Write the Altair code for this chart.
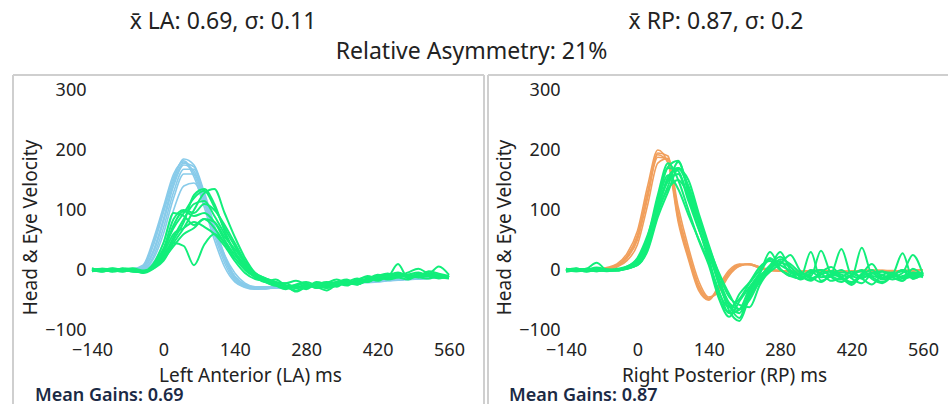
import altair as alt
import pandas as pd

# Sample times (ms) shared by every velocity trace
TIME_MS = [-140, -120, -100, -80, -60, -40, -20, 0, 20, 40, 60, 80,
           100, 120, 140, 160, 180, 200, 220, 240, 260, 280, 300, 320,
           340, 360, 380, 400, 420, 440, 460, 480, 500, 520, 540, 560]

# Left anterior canal impulses: head velocity traces (deg/s)
LA_HEAD = [
    [0, 0, 1, 0, 1, 5, 40, 95, 150, 185, 175, 130, 75, 25, -12, -25, -30, -31, -30, -30, -29, -28, -27, -26, -25, -24, -22, -21, -20, -18, -17, -16, -15, -14, -13, -12],
    [1, 0, 0, -1, 0, 3, 28, 80, 140, 175, 165, 120, 65, 18, -15, -27, -31, -30, -30, -29, -28, -28, -27, -25, -24, -23, -21, -20, -19, -18, -16, -15, -15, -14, -13, -12],
    [0, -1, 0, 0, 1, 2, 18, 60, 120, 160, 160, 115, 65, 20, -10, -24, -29, -30, -29, -29, -28, -27, -26, -25, -23, -22, -21, -19, -18, -17, -16, -15, -14, -13, -13, -12],
    [0, 0, 0, 1, 2, 8, 50, 105, 160, 180, 155, 105, 50, 5, -20, -29, -32, -31, -30, -29, -28, -27, -25, -24, -23, -22, -20, -19, -18, -17, -16, -15, -14, -13, -12, -11],
    [0, 1, 0, 0, -1, 1, 12, 45, 100, 140, 145, 115, 70, 25, -5, -22, -28, -28, -28, -27, -26, -25, -24, -23, -22, -21, -20, -18, -17, -16, -15, -14, -13, -12, -11, -11],
    [0, 0, 1, 0, 0, 4, 32, 85, 145, 178, 172, 125, 70, 20, -14, -26, -30, -31, -30, -29, -28, -27, -25, -24, -23, -21, -20, -19, -18, -17, -16, -15, -14, -13, -12, -12],
    [0, 0, 0, 1, 0, 2, 22, 70, 130, 168, 168, 122, 68, 22, -12, -26, -30, -30, -29, -29, -28, -27, -26, -25, -24, -22, -21, -20, -19, -17, -16, -15, -14, -13, -13, -12],
    [0, 1, 0, 0, 1, 6, 45, 100, 155, 182, 160, 112, 58, 12, -18, -28, -31, -31, -30, -30, -29, -27, -26, -25, -24, -22, -21, -20, -18, -17, -16, -15, -14, -13, -12, -12],
]

# Left anterior canal impulses: eye velocity traces (deg/s)
LA_EYE = [
    [0, -3, 2, 0, -2, -4, 8, 35, 70, 95, 120, 132, 105, 70, 40, 12, -8, -18, -25, -30, -26, -32, -24, -28, -20, -24, -16, -20, -12, -14, -10, -12, -6, -10, -12, -14],
    [2, 0, -2, 3, 0, -3, 5, 30, 75, 98, 90, 95, 80, 50, 25, 5, -10, -16, -22, -26, -30, -24, -30, -26, -22, -18, -20, -14, -16, -12, 10, -14, -10, -5, -12, -10],
    [-2, 2, 0, -3, 1, -2, 3, 25, 45, 40, 8, 42, 60, 45, 20, 0, -12, -20, -16, -26, -30, -26, -28, -22, -16, -22, -18, -10, -14, -12, -8, -10, -12, -6, -8, -12],
    [0, 1, -3, 0, 2, -5, 2, 15, 45, 70, 100, 128, 135, 95, 55, 20, -5, -15, -22, -28, -34, -28, -24, -30, -26, -20, -24, -16, -12, -16, -12, -8, -12, -14, -10, -12],
    [3, -2, 0, 2, -3, -2, 10, 45, 95, 90, 75, 85, 70, 45, 20, 2, -12, -20, -26, -32, -26, -22, -30, -26, -20, -22, -24, -16, -10, -14, -12, -8, -4, -10, -12, -10],
    [0, 2, 1, -2, 0, -3, 4, 22, 55, 85, 110, 115, 90, 60, 30, 8, -10, -14, -20, -22, -18, -24, -28, -34, -24, -20, -14, -20, -12, -8, -10, -4, 2, -6, -8, -12],
    [-1, 0, 3, 0, -2, -4, 6, 28, 60, 70, 80, 72, 60, 40, 15, -5, -15, -18, -22, -26, -28, -30, -20, -24, -28, -18, -22, -16, -10, -6, -12, -8, -10, -2, -6, -10],
    [1, -2, 0, 1, 3, -1, 3, 20, 50, 80, 125, 135, 110, 65, 30, 5, -10, -20, -26, -22, -30, -27, -24, -20, -22, -26, -16, -12, -18, -10, -4, -10, -12, -8, 6, -8],
    [0, 1, -1, 0, -1, -3, 7, 35, 85, 100, 95, 110, 100, 75, 45, 15, -5, -14, -20, -28, -24, -20, -26, -30, -22, -18, -22, -15, -8, -12, -6, -12, -8, -10, -8, -12],
    [-2, 0, 2, -1, 0, -2, 4, 18, 40, 60, 70, 85, 80, 55, 35, 12, -6, -14, -22, -26, -36, -28, -22, -24, -20, -16, -24, -18, -14, -10, -12, -16, -8, -10, -14, -10],
]

# Right posterior canal impulses: head velocity traces (deg/s)
RP_HEAD = [
    [0, 0, 0, 1, 2, 6, 20, 50, 120, 195, 190, 95, 30, -25, -48, -32, -6, 8, 10, 4, 0, -2, -3, -2, -1, 0, -2, -3, -2, -1, 0, -1, -2, -2, -1, 0],
    [0, 0, 1, 0, 3, 8, 24, 58, 130, 192, 180, 85, 22, -30, -50, -28, -3, 9, 9, 3, 0, -1, -2, -3, -2, -1, -2, -2, -3, -2, -1, -1, -2, -1, -1, 0],
    [0, 0, 0, 0, 1, 5, 16, 42, 108, 178, 186, 105, 38, -18, -45, -36, -9, 6, 10, 5, 1, -1, -2, -2, -3, -2, -1, -2, -2, -3, -2, -1, -1, -2, -1, -1],
    [0, 0, 0, 1, 4, 10, 28, 65, 140, 200, 178, 80, 18, -34, -50, -25, 0, 10, 9, 3, -1, -2, -3, -2, -1, -1, -2, -3, -2, -1, -1, -2, -2, -1, -1, 0],
    [0, 0, 0, 0, 2, 7, 22, 54, 125, 188, 184, 92, 28, -26, -47, -30, -5, 7, 10, 5, 0, -1, -2, -3, -2, -1, -2, -2, -2, -1, -1, -1, -2, -1, 0, 0],
]

# Right posterior canal impulses: eye velocity traces (deg/s)
RP_EYE = [
    [0, 3, -2, 2, 0, 1, 4, 12, 45, 115, 170, 165, 120, 70, 20, -45, -70, -40, -20, 5, 15, 0, -8, -15, -5, 0, -12, -20, -8, 0, -15, -22, -10, 0, -12, -8],
    [-3, 0, 2, 12, 0, -1, 3, 8, 35, 95, 140, 180, 135, 80, 30, -25, -60, -80, -35, -10, 5, 30, 0, -10, -18, -4, 5, -12, -25, -8, 0, -14, -6, -18, 2, -10],
    [2, -2, 0, 4, 1, 0, 2, 10, 40, 100, 155, 170, 140, 90, 35, -15, -55, -65, -42, -15, 0, 18, 10, -5, -12, -20, -8, 0, -14, -22, -6, -2, -12, -18, -5, -10],
    [0, 1, -3, 0, -1, 0, 6, 18, 55, 125, 178, 150, 100, 50, 8, -48, -78, -52, -28, -6, 30, 2, -10, -14, 0, -6, -18, -12, -3, -14, -24, -8, -4, -14, -10, -3],
    [-2, 2, 0, -2, 1, -1, 4, 14, 48, 108, 148, 160, 115, 68, 25, -20, -68, -85, -45, -20, -3, 10, 25, -2, -10, 32, -6, -12, -20, -6, 10, -12, -8, -2, -14, -8],
    [1, 0, 2, 0, -2, 1, 3, 8, 32, 88, 130, 168, 150, 95, 42, -8, -45, -58, -62, -25, 0, 12, 5, -10, -16, -8, -2, -14, -22, -10, -5, -16, -12, -5, 25, -8],
    [0, -1, 1, 3, 0, -1, 5, 16, 52, 118, 172, 182, 128, 72, 15, -35, -72, -66, -30, -5, 18, 8, -2, -16, -6, 0, -10, -16, -8, -2, -12, -20, -10, 0, -6, -12],
    [2, 0, -1, 0, 1, 0, 2, 10, 42, 98, 135, 150, 125, 85, 38, -5, -40, -66, -50, -18, 5, 15, -5, -8, -3, -12, -6, 35, -10, -14, -4, -8, -16, -10, -4, -6],
    [-1, 2, 0, -2, 0, 2, 6, 20, 58, 112, 158, 135, 92, 52, 12, -38, -62, -48, -22, 0, 20, 2, -10, -5, -14, -6, -2, -8, -12, 37, -6, -3, -6, -12, -8, -10],
    [0, -2, 1, 0, -1, 0, 4, 12, 44, 102, 150, 170, 138, 88, 32, -18, -58, -72, -38, -12, 8, 22, 6, -12, 30, -18, -10, -4, -6, -12, -10, -14, -8, 28, -15, -5],
]

X_TICKS = [-140, 0, 140, 280, 420, 560]
Y_TICKS = [-100, 0, 100, 200, 300]

FONT = "Noto Sans"
TEXT = "#222222"
NAVY = "#1b2a45"
FRAME = "#cfcfcf"
BLUE = "#88cbea"
ORANGE = "#f19f5c"
GREEN = "#12ee7a"

W, H = 357, 240


def long_frame(traces, tag):
    rows = []
    for k, trace in enumerate(traces):
        for t, v in zip(TIME_MS, trace):
            rows.append({"t": t, "v": v, "trace": f"{tag}{k}"})
    return pd.DataFrame(rows)


ONE = pd.DataFrame({"k": [0]})


def label(text, px, py, size, align="center", baseline="middle", weight="normal", color=TEXT):
    return alt.Chart(ONE).mark_text(
        font=FONT, fontSize=size, align=align, baseline=baseline,
        fontWeight=weight, color=color,
    ).encode(x=alt.value(px), y=alt.value(py), text=alt.value(text))


def rule(x1, y1, x2, y2):
    return alt.Chart(ONE).mark_rule(color=FRAME, strokeWidth=2).encode(
        x=alt.value(x1), y=alt.value(y1), x2=alt.value(x2), y2=alt.value(y2)
    )


def panel(head, eye, head_color, x_title, gains_text, frame_left, frame_right, extras):
    x = alt.X(
        "t:Q",
        scale=alt.Scale(domain=[-140, 560], nice=False, zero=False),
        axis=alt.Axis(values=X_TICKS, title=x_title, labelPadding=11,
                      titleX=158, titleY=45, titleBaseline="middle", titleAlign="center"),
    )
    y = alt.Y(
        "v:Q",
        scale=alt.Scale(domain=[-100, 300], nice=False, zero=False),
        axis=alt.Axis(values=Y_TICKS, title="Head & Eye Velocity", labelPadding=6,
                      titleX=-62, titleY=137, titleAngle=270,
                      titleBaseline="middle", titleAlign="center"),
    )
    head_lines = alt.Chart(long_frame(head, "h")).mark_line(
        color=head_color, strokeWidth=1.6, interpolate="monotone"
    ).encode(x=x, y=y, detail="trace:N")
    eye_lines = alt.Chart(long_frame(eye, "e")).mark_line(
        color=GREEN, strokeWidth=2, interpolate="monotone"
    ).encode(x=x, y=y, detail="trace:N")

    frame = [
        rule(frame_left, -15, frame_left, 314),
        rule(frame_left, -15, frame_right, -15),
    ]
    gains = label(gains_text, -57, 315, 18, align="left", baseline="bottom",
                  weight=600, color=NAVY)
    return alt.layer(*extras, *frame, head_lines, eye_lines, gains).properties(
        width=W, height=H
    )


# Invisible backdrop spanning the whole canvas so the page is laid out at a fixed size
canvas = alt.Chart(ONE).mark_rect(opacity=0).encode(
    x=alt.value(-92), x2=alt.value(858), y=alt.value(-90), y2=alt.value(315)
)

left_extras = [
    canvas,
    label("x̄ LA: 0.69, σ: 0.11", 131, -68, 23),
    label("Relative Asymmetry: 21%", 379.5, -38, 23),
    rule(392, -15, 392, 314),
]
right_extras = [
    label("x̄ RP: 0.87, σ: 0.2", 150, -68, 23),
]

left = panel(LA_HEAD, LA_EYE, BLUE, "Left Anterior (LA) ms", "Mean Gains: 0.69",
             -79, 392, left_extras)
right = panel(RP_HEAD, RP_EYE, ORANGE, "Right Posterior (RP) ms", "Mean Gains: 0.87",
              -78, 382, right_extras)

chart = alt.hconcat(left, right, spacing=117, bounds="flush", padding=0).configure_view(
    strokeWidth=0
).configure_axis(
    domain=False, ticks=False, tickSize=0, grid=False,
    labelFont=FONT, labelFontSize=18, labelColor=TEXT, labelFlush=False,
    labelOverlap=False,
    titleFont=FONT, titleFontSize=19, titleFontWeight="normal", titleColor=TEXT,
).properties(background="white")

chart.save("out.html", embed_options={"renderer": "svg", "actions": False})
